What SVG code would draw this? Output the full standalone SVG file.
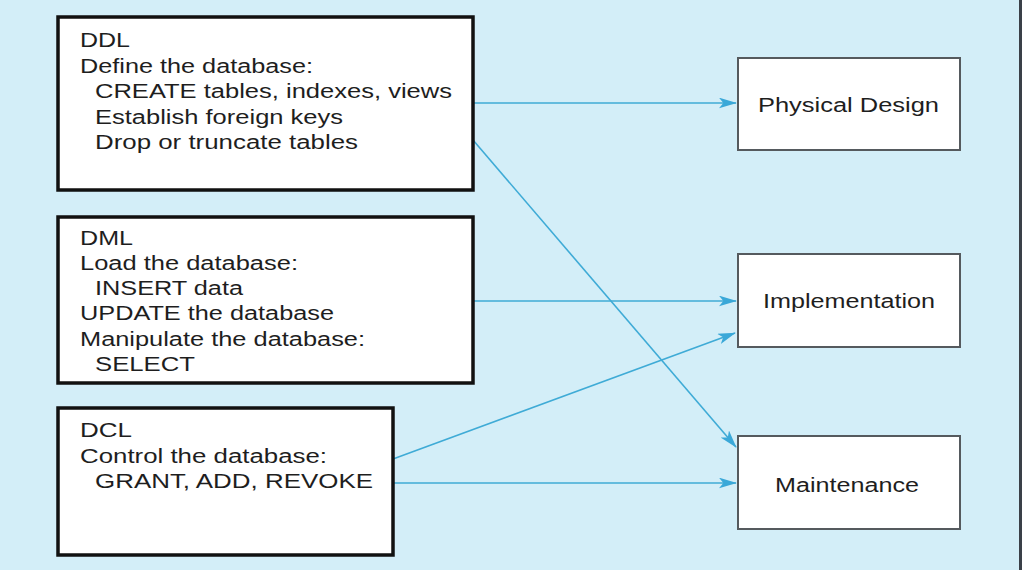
<svg xmlns="http://www.w3.org/2000/svg" width="1022" height="570" viewBox="0 0 1022 570">
<style>
.bg{fill:#d3eef8}
.lbox{fill:#ffffff;stroke:#111111;stroke-width:3.5}
.rbox{fill:#ffffff;stroke:#555a5e;stroke-width:2}
.t{font-family:"Liberation Sans",Arial,Helvetica,sans-serif;font-size:20px;fill:#1e1e1e}
.c{fill:none;stroke:#3fabd6;stroke-width:1.6}
</style>
<defs>
<marker id="ah" viewBox="0 0 20 12" refX="19" refY="6" markerWidth="18" markerHeight="11" markerUnits="userSpaceOnUse" orient="auto">
<path d="M0,0 L20,6 L0,12 L5,6 Z" fill="#3aa8d8"/>
</marker>
</defs>
<rect class="bg" x="0" y="0" width="1022" height="570"/>
<rect x="1019" y="0" width="3" height="570" fill="#3a4048"/>
<g id="connectors">
<line class="c" x1="473" y1="103" x2="736" y2="103" marker-end="url(#ah)"/>
<line class="c" x1="473" y1="140" x2="736" y2="447" marker-end="url(#ah)"/>
<line class="c" x1="473" y1="301" x2="736" y2="301" marker-end="url(#ah)"/>
<line class="c" x1="393" y1="459" x2="735" y2="333" marker-end="url(#ah)"/>
<line class="c" x1="393" y1="483" x2="736" y2="483" marker-end="url(#ah)"/>
</g>
<g id="ddl">
<rect class="lbox" x="58" y="17" width="415" height="173"/>
<text class="t" x="80" y="47" textLength="50" lengthAdjust="spacingAndGlyphs">DDL</text>
<text class="t" x="80" y="73" textLength="233" lengthAdjust="spacingAndGlyphs">Define the database:</text>
<text class="t" x="95" y="98" textLength="357" lengthAdjust="spacingAndGlyphs">CREATE tables, indexes, views</text>
<text class="t" x="95" y="124" textLength="248" lengthAdjust="spacingAndGlyphs">Establish foreign keys</text>
<text class="t" x="95" y="149" textLength="263" lengthAdjust="spacingAndGlyphs">Drop or truncate tables</text>
</g>
<g id="dml">
<rect class="lbox" x="58" y="217" width="415" height="166"/>
<text class="t" x="80" y="245" textLength="53" lengthAdjust="spacingAndGlyphs">DML</text>
<text class="t" x="80" y="270" textLength="218" lengthAdjust="spacingAndGlyphs">Load the database:</text>
<text class="t" x="95" y="295" textLength="148" lengthAdjust="spacingAndGlyphs">INSERT data</text>
<text class="t" x="80" y="320" textLength="254" lengthAdjust="spacingAndGlyphs">UPDATE the database</text>
<text class="t" x="80" y="346" textLength="285" lengthAdjust="spacingAndGlyphs">Manipulate the database:</text>
<text class="t" x="95" y="371" textLength="100" lengthAdjust="spacingAndGlyphs">SELECT</text>
</g>
<g id="dcl">
<rect class="lbox" x="58" y="408" width="335" height="147"/>
<text class="t" x="80" y="437" textLength="52" lengthAdjust="spacingAndGlyphs">DCL</text>
<text class="t" x="80" y="463" textLength="247" lengthAdjust="spacingAndGlyphs">Control the database:</text>
<text class="t" x="95" y="488" textLength="278" lengthAdjust="spacingAndGlyphs">GRANT, ADD, REVOKE</text>
</g>
<g id="physical-design">
<rect class="rbox" x="738" y="58" width="222" height="92"/>
<text class="t" x="758" y="112" textLength="181" lengthAdjust="spacingAndGlyphs">Physical Design</text>
</g>
<g id="implementation">
<rect class="rbox" x="738" y="254" width="222" height="93"/>
<text class="t" x="763" y="308" textLength="172" lengthAdjust="spacingAndGlyphs">Implementation</text>
</g>
<g id="maintenance">
<rect class="rbox" x="738" y="436" width="222" height="93"/>
<text class="t" x="775" y="492" textLength="144" lengthAdjust="spacingAndGlyphs">Maintenance</text>
</g>
</svg>
